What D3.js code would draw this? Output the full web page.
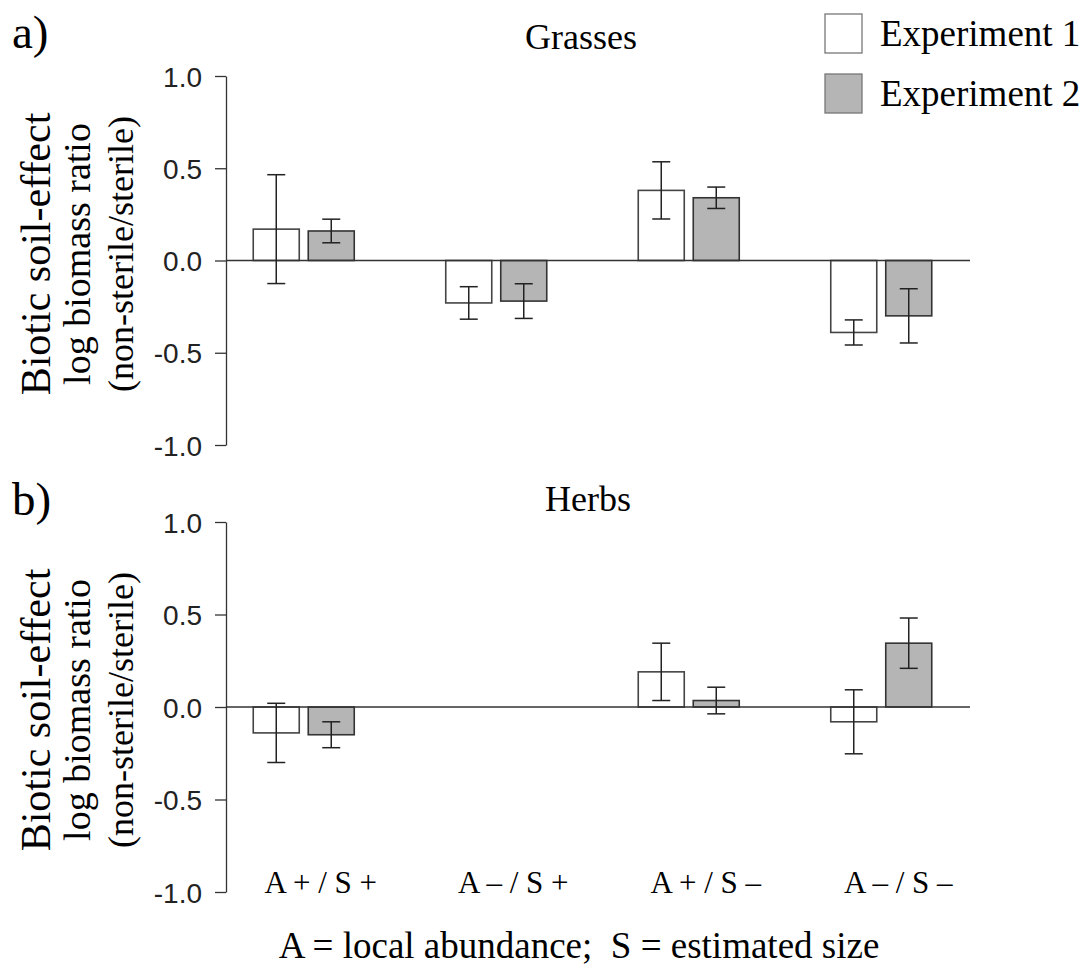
<!DOCTYPE html>
<html>
<head>
<meta charset="utf-8">
<script src="https://cdn.jsdelivr.net/npm/d3@7"></script>
<style>
  html, body { margin: 0; padding: 0; background: #fff; }
  svg { display: block; }
</style>
</head>
<body>
<svg id="chart" width="1086" height="978"></svg>
<script>
// Treatment groups along the x axis
const categories = ["A + / S +", "A \u2013 / S +", "A + / S \u2013", "A \u2013 / S \u2013"];
const seriesNames = ["Experiment 1", "Experiment 2"];
const seriesFill = ["#ffffff", "#b5b5b5"];

// Grasses: mean log biomass ratio and error (±)
const grassesExp1 = [0.17, -0.23, 0.38, -0.39];
const grassesExp1Err = [0.295, 0.088, 0.155, 0.068];
const grassesExp2 = [0.16, -0.22, 0.34, -0.30];
const grassesExp2Err = [0.064, 0.094, 0.058, 0.147];

// Herbs: no species in the A– / S+ group
const herbsExp1 = [-0.14, null, 0.19, -0.08];
const herbsExp1Err = [0.16, null, 0.155, 0.173];
const herbsExp2 = [-0.15, null, 0.035, 0.345];
const herbsExp2Err = [0.07, null, 0.072, 0.136];

const yTicks = [-1.0, -0.5, 0.0, 0.5, 1.0];

const serif = "'Liberation Serif', 'Times New Roman', Times, serif";
const sans = "'Liberation Sans', Arial, Helvetica, sans-serif";

const svg = d3.select("#chart");

const axisX = 226, zeroEnd = 970;
const x0 = d3.scaleBand().domain(categories).range([207.5, 977.5]).padding(0);
const x1 = d3.scaleBand().domain(seriesNames).range([45.75, 146.75]).paddingInner(0.1636).paddingOuter(0);

const panels = [
  { tag: "a)", tagY: 48, title: "Grasses", titleX: 581, titleY: 49, top: 76, bottom: 445, labelMid: 254,
    means: [grassesExp1, grassesExp2], errs: [grassesExp1Err, grassesExp2Err], xLabels: false },
  { tag: "b)", tagY: 515, title: "Herbs", titleX: 588, titleY: 511, top: 522, bottom: 892, labelMid: 710,
    means: [herbsExp1, herbsExp2], errs: [herbsExp1Err, herbsExp2Err], xLabels: true }
];

panels.forEach(p => {
  const y = d3.scaleLinear().domain([-1, 1]).range([p.bottom, p.top]);
  const g = svg.append("g");

  // panel tag
  g.append("text").attr("x", 12).attr("y", p.tagY)
    .attr("font-family", serif).attr("font-size", 47).attr("fill", "#000").text(p.tag);

  // panel title
  g.append("text").attr("x", p.titleX).attr("y", p.titleY).attr("text-anchor", "middle")
    .attr("font-family", serif).attr("font-size", 36).attr("fill", "#000").text(p.title);

  // y axis
  const axis = d3.axisLeft(y).tickValues(yTicks).tickFormat(d => d.toFixed(1))
    .tickSize(11).tickSizeOuter(0).tickPadding(13);
  const ag = g.append("g").attr("transform", `translate(${axisX},0)`).call(axis);
  ag.select(".domain").attr("stroke", "#333").attr("stroke-width", 1.3);
  ag.selectAll(".tick line").attr("stroke", "#333").attr("stroke-width", 1.3);
  ag.selectAll(".tick text").attr("font-family", sans).attr("font-size", 28).attr("fill", "#222")
    .attr("dy", "0.36em");

  // y axis title (three lines)
  const lines = [
    { t: "Biotic soil-effect", x: 50, s: 42 },
    { t: "log biomass ratio", x: 90, s: 38 },
    { t: "(non-sterile/sterile)", x: 133, s: 36 }
  ];
  lines.forEach(l => {
    g.append("text")
      .attr("transform", `translate(${l.x},${p.labelMid}) rotate(-90)`)
      .attr("text-anchor", "middle")
      .attr("font-family", serif).attr("font-size", l.s).attr("fill", "#000").text(l.t);
  });

  // bars
  const rows = [];
  categories.forEach((c, i) => {
    seriesNames.forEach((s, j) => {
      const v = p.means[j][i];
      if (v !== null) rows.push({ c, s, j, v, e: p.errs[j][i] });
    });
  });

  const bars = g.append("g");
  bars.selectAll("rect").data(rows).join("rect")
    .attr("x", d => x0(d.c) + x1(d.s))
    .attr("width", x1.bandwidth())
    .attr("y", d => y(Math.max(0, d.v)))
    .attr("height", d => Math.abs(y(d.v) - y(0)))
    .attr("fill", d => seriesFill[d.j])
    .attr("stroke", d => d.j === 0 ? "#444" : "#333")
    .attr("stroke-width", 1.6);

  // zero line
  g.append("line").attr("x1", axisX).attr("x2", zeroEnd).attr("y1", y(0)).attr("y2", y(0))
    .attr("stroke", "#333").attr("stroke-width", 1.5);

  // error bars
  const capW = 18;
  const eb = g.append("g").attr("stroke", "#222").attr("stroke-width", 1.5);
  rows.forEach(d => {
    const cx = x0(d.c) + x1(d.s) + x1.bandwidth() / 2;
    const hi = y(d.v + d.e), lo = y(d.v - d.e);
    eb.append("line").attr("x1", cx).attr("x2", cx).attr("y1", hi).attr("y2", lo);
    eb.append("line").attr("x1", cx - capW / 2).attr("x2", cx + capW / 2).attr("y1", hi).attr("y2", hi);
    eb.append("line").attr("x1", cx - capW / 2).attr("x2", cx + capW / 2).attr("y1", lo).attr("y2", lo);
  });

  // category labels
  if (p.xLabels) {
    g.append("g").selectAll("text").data(categories).join("text")
      .attr("x", d => x0(d) + x0.bandwidth() / 2 + 17)
      .attr("y", 893)
      .attr("text-anchor", "middle")
      .attr("font-family", serif).attr("font-size", 31).attr("fill", "#000")
      .text(d => d);
  }
});

// legend
const legend = svg.append("g");
seriesNames.forEach((s, j) => {
  legend.append("rect").attr("x", 825).attr("y", 14 + j * 60).attr("width", 37).attr("height", 39)
    .attr("fill", seriesFill[j]).attr("stroke", "#777").attr("stroke-width", 1.3);
  legend.append("text").attr("x", 880).attr("y", 46 + j * 60)
    .attr("font-family", serif).attr("font-size", 37).attr("fill", "#000").text(s);
});

// footnote
svg.append("text").attr("x", 579).attr("y", 958).attr("text-anchor", "middle")
  .attr("font-family", serif).attr("font-size", 37).attr("fill", "#000")
  .text("A = local abundance;\u00a0 S = estimated size");
</script>
</body>
</html>
